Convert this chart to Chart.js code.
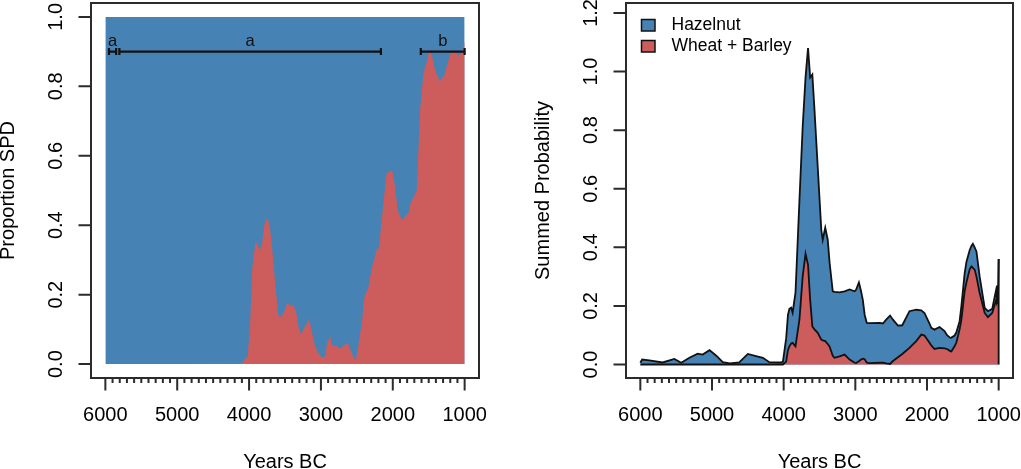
<!DOCTYPE html>
<html>
  <head>
    <meta charset="utf-8">
    <title>Proportion SPD and Summed Probability</title>
    <script src="https://cdn.jsdelivr.net/npm/chart.js@4.4.0/dist/chart.umd.min.js"></script>
    <style>
      html, body { margin: 0; padding: 0; background: #fff; }
      #wrap { position: relative; width: 1021px; height: 469px; overflow: hidden; }
      canvas { position: absolute; top: 0; }
    </style>
  </head>
  <body>

    <div id="wrap">
      <!-- Left: proportion of wheat + barley in the SPD -->
      <canvas id="propChart" width="510" height="469" style="left:0"></canvas>
      <!-- Right: stacked summed probability -->
      <canvas id="spdChart" width="511" height="469" style="left:510px"></canvas>
    </div>

    <script>

      // ---- Data ----

      // Left panel: share of wheat + barley, the rest (hazelnut) fills up to 1
      const propYears = [6000, 4100, 4056, 4019, 3987, 3955, 3908, 3848, 3824, 3788, 3755, 3718, 3685, 3649, 3615, 3593,
        3546, 3509, 3462, 3430, 3384, 3347, 3314, 3277, 3221, 3198, 3166, 3128, 3082, 3036, 2981, 2943, 2915, 2873,
        2841, 2781, 2734, 2688, 2627, 2572, 2516, 2480, 2430, 2393, 2340, 2317, 2277, 2222, 2192, 2128, 2085, 2039,
        2007, 1969, 1932, 1876, 1830, 1783, 1750, 1691, 1667, 1621, 1574, 1528, 1482, 1450, 1403, 1343, 1283, 1227,
        1180, 1134, 1088, 1041, 1005, 1000];
      const propWheatBarley = [0, 0.002, 0.014, 0.024, 0.11, 0.28, 0.354, 0.33, 0.34, 0.40, 0.42, 0.406, 0.349, 0.263, 0.186, 0.139,
        0.137, 0.153, 0.179, 0.169, 0.169, 0.153, 0.11, 0.086, 0.11, 0.115, 0.129, 0.096, 0.052, 0.032, 0.019, 0.022, 0.06, 0.081,
        0.052, 0.052, 0.045, 0.052, 0.062, 0.032, 0.01, 0.052, 0.12, 0.196, 0.22, 0.249, 0.29, 0.33, 0.335, 0.47, 0.55, 0.555,
        0.559, 0.511, 0.444, 0.416, 0.425, 0.435, 0.464, 0.49, 0.50, 0.73, 0.837, 0.87, 0.908, 0.884, 0.841, 0.815, 0.832, 0.875,
        0.903, 0.90, 0.889, 0.895, 0.927, 0.93];
      const propHazelYears = [6000, 1000];
      const propHazel = [1, 1];

      // Significance groups drawn as brackets on the left panel
      const groupStart = [5950, 5805, 1610];
      const groupEnd = [5850, 2165, 1000];
      const groupLetters = ["a", "a", "b"];
      const groupLevel = 0.9;

      // Right panel: summed probability, wheat + barley at the bottom, hazelnut stacked on top
      const spdYears = [6000, 5975, 5875, 5690, 5525, 5430, 5315, 5200, 5130, 5035, 4940, 4850, 4750, 4620, 4500, 4385,
        4290, 4200, 4035, 4010, 3965, 3940, 3920, 3895, 3875, 3835, 3780, 3735, 3695, 3660, 3630, 3600, 3570, 3525,
        3475, 3455, 3420, 3385, 3360, 3315, 3290, 3220, 3150, 3080, 3010, 2990, 2950, 2920, 2895, 2870, 2840, 2800,
        2660, 2615, 2570, 2515, 2475, 2405, 2345, 2245, 2150, 2080, 2035, 1965, 1940, 1895, 1825, 1755, 1720, 1675,
        1660, 1615, 1590, 1545, 1520, 1475, 1450, 1405, 1380, 1360, 1335, 1310, 1265, 1195, 1150, 1090, 1040, 1030,
        1020, 1010, 1000];
      const wheatBarley = [0, 0, 0, 0, 0, 0, 0, 0, 0, 0, 0, 0, 0, 0, 0, 0,
        0, 0, 0, 0, 0.01, 0.05, 0.062, 0.072, 0.074, 0.062, 0.153, 0.30, 0.378, 0.34, 0.22, 0.13, 0.12, 0.108,
        0.085, 0.082, 0.08, 0.07, 0.062, 0.03, 0.023, 0.028, 0.034, 0.017, 0.006, 0.005, 0.011, 0.017, 0.02, 0.018, 0.006, 0.005,
        0.006, 0.006, 0.004, 0.002, 0.012, 0.025, 0.036, 0.057, 0.08, 0.102, 0.099, 0.074, 0.065, 0.053, 0.057, 0.055, 0.053, 0.046,
        0.045, 0.062, 0.075, 0.12, 0.153, 0.25, 0.28, 0.325, 0.335, 0.33, 0.324, 0.30, 0.244, 0.176, 0.162, 0.176, 0.216, 0.21,
        0.267, 0.21, 0.21];
      const hazelnut = [0.006, 0.017, 0.014, 0.007, 0.019, 0.006, 0.023, 0.037, 0.034, 0.049, 0.030, 0.008, 0.004, 0.007, 0.036, 0.029,
        0.023, 0.008, 0.007, 0.01, 0.08, 0.12, 0.128, 0.122, 0.103, 0.183, 0.407, 0.51, 0.602, 0.74, 0.76, 0.86, 0.75, 0.568,
        0.375, 0.344, 0.387, 0.356, 0.288, 0.22, 0.225, 0.218, 0.216, 0.239, 0.244, 0.25, 0.269, 0.233, 0.20, 0.152, 0.136, 0.136,
        0.136, 0.134, 0.149, 0.165, 0.141, 0.108, 0.098, 0.125, 0.107, 0.083, 0.077, 0.066, 0.06, 0.066, 0.071, 0.059, 0.047, 0.045,
        0.047, 0.037, 0.035, 0.028, 0.047, 0.06, 0.07, 0.065, 0.07, 0.082, 0.076, 0.086, 0.056, 0.017, 0.02, 0.014, 0.034, 0.02,
        0.003, 0.01, 0.15];

      // Tick labels
      const xMajorTicks = [6000, 5000, 4000, 3000, 2000, 1000];
      const propYTicks = [0, 0.2, 0.4, 0.6, 0.8, 1.0];
      const propYLabels = ["0.0", "0.2", "0.4", "0.6", "0.8", "1.0"];
      const spdYTicks = [0, 0.2, 0.4, 0.6, 0.8, 1.0, 1.2];
      const spdYLabels = ["0.0", "0.2", "0.4", "0.6", "0.8", "1.0", "1.2"];

      // Minor ticks every 100 years
      const xMinorTicks = [];
      for (let yr = 5900; yr > 1000; yr -= 100) {
        if (yr % 1000 !== 0) xMinorTicks.push(yr);
      }

      const BLUE = "#4682b4";
      const RED = "#cd5c5c";
      const FONT = '"Liberation Sans", Arial, Helvetica, sans-serif';

      const toPoints = (xs, ys) => xs.map((x, i) => ({ x: x, y: ys[i] }));

      // R style box, axes, tick labels and titles
      const rAxes = {
        id: "rAxes",
        afterDraw(chart, args, opts) {
          const { ctx, chartArea: a, scales: { x, y } } = chart;
          ctx.save();
          ctx.strokeStyle = "#2b2b2b";
          ctx.lineWidth = 2;
          ctx.strokeRect(a.left, a.top, a.right - a.left, a.bottom - a.top);

          ctx.beginPath();
          xMinorTicks.forEach(v => {
            const px = x.getPixelForValue(v);
            ctx.moveTo(px, a.bottom);
            ctx.lineTo(px, a.bottom + 5);
          });
          xMajorTicks.forEach(v => {
            const px = x.getPixelForValue(v);
            ctx.moveTo(px, a.bottom);
            ctx.lineTo(px, a.bottom + 12.5);
          });
          opts.yTicks.forEach(v => {
            const py = y.getPixelForValue(v);
            ctx.moveTo(a.left, py);
            ctx.lineTo(a.left - 12.5, py);
          });
          ctx.stroke();

          ctx.fillStyle = "#000";
          ctx.font = "20px " + FONT;
          ctx.textAlign = "center";
          ctx.textBaseline = "middle";
          xMajorTicks.forEach(v => ctx.fillText(String(v), x.getPixelForValue(v), a.bottom + 37));
          ctx.fillText("Years BC", (a.left + a.right) / 2, a.bottom + 84);

          opts.yTicks.forEach((v, i) => {
            ctx.save();
            ctx.translate(a.left - 35, y.getPixelForValue(v));
            ctx.rotate(-Math.PI / 2);
            ctx.fillText(opts.yLabels[i], 0, 0);
            ctx.restore();
          });

          ctx.save();
          ctx.translate(a.left - 83, (a.top + a.bottom) / 2);
          ctx.rotate(-Math.PI / 2);
          ctx.fillText(opts.yTitle, 0, 0);
          ctx.restore();
          ctx.restore();
        }
      };

      // Group brackets with letters (left panel)
      const groupBrackets = {
        id: "groupBrackets",
        afterDatasetsDraw(chart) {
          const { ctx, scales: { x, y } } = chart;
          const py = y.getPixelForValue(groupLevel);
          ctx.save();
          ctx.strokeStyle = "#111";
          ctx.lineWidth = 2.2;
          ctx.fillStyle = "#111";
          ctx.font = "16.5px " + FONT;
          ctx.textAlign = "center";
          ctx.textBaseline = "alphabetic";
          groupStart.forEach((s, i) => {
            const x1 = x.getPixelForValue(s);
            const x2 = x.getPixelForValue(groupEnd[i]);
            ctx.beginPath();
            ctx.moveTo(x1, py); ctx.lineTo(x2, py);
            ctx.moveTo(x1, py - 3.5); ctx.lineTo(x1, py + 3.5);
            ctx.moveTo(x2, py - 3.5); ctx.lineTo(x2, py + 3.5);
            ctx.stroke();
            ctx.fillText(groupLetters[i], (x1 + x2) / 2, py - 6);
          });
          ctx.restore();
        }
      };

      // Closing vertical edge of the stacked polygons and the legend (right panel)
      const spdExtras = {
        id: "spdExtras",
        afterDatasetsDraw(chart) {
          const { ctx, chartArea: a, scales: { y } } = chart;
          const top = chart.getDatasetMeta(1).data;
          const last = top[top.length - 1];
          ctx.save();
          ctx.strokeStyle = "#111";
          ctx.lineWidth = 1.8;
          ctx.beginPath();
          ctx.moveTo(last.x, y.getPixelForValue(0));
          ctx.lineTo(last.x, last.y);
          ctx.stroke();

          // legend
          const items = [["Hazelnut", BLUE], ["Wheat + Barley", RED]];
          ctx.font = "17.5px " + FONT;
          ctx.textAlign = "left";
          ctx.textBaseline = "middle";
          items.forEach((it, i) => {
            const bx = a.left + 15.5;
            const by = a.top + 16.5 + i * 21;
            ctx.fillStyle = it[1];
            ctx.fillRect(bx, by, 13.5, 11.5);
            ctx.lineWidth = 1.5;
            ctx.strokeStyle = "#111";
            ctx.strokeRect(bx, by, 13.5, 11.5);
            ctx.fillStyle = "#000";
            ctx.fillText(it[0], bx + 30, by + 6);
          });
          ctx.restore();
        }
      };

      const commonLine = { pointRadius: 0, tension: 0, fill: "origin" };

      // Left chart
      new Chart(document.getElementById("propChart").getContext("2d"), {
        type: "line",
        data: {
          datasets: [
            Object.assign({
              label: "Wheat + Barley",
              data: toPoints(propYears, propWheatBarley),
              backgroundColor: RED,
              borderWidth: 0
            }, commonLine),
            Object.assign({
              label: "Hazelnut",
              data: toPoints(propHazelYears, propHazel),
              backgroundColor: BLUE,
              borderWidth: 0
            }, commonLine)
          ]
        },
        options: {
          responsive: false,
          animation: false,
          events: [],
          layout: { padding: { left: 91, top: 3, right: 31, bottom: 91 } },
          scales: {
            x: { type: "linear", min: 800, max: 6200, reverse: true, display: false },
            y: { min: -0.04, max: 1.04, display: false }
          },
          plugins: {
            legend: { display: false },
            tooltip: { enabled: false },
            rAxes: { yTicks: propYTicks, yLabels: propYLabels, yTitle: "Proportion SPD" }
          }
        },
        plugins: [groupBrackets, rAxes]
      });

      // Right chart
      new Chart(document.getElementById("spdChart").getContext("2d"), {
        type: "line",
        data: {
          datasets: [
            Object.assign({
              label: "Wheat + Barley",
              data: toPoints(spdYears, wheatBarley),
              backgroundColor: RED,
              borderColor: "#111",
              borderWidth: 1.8
            }, commonLine),
            Object.assign({
              label: "Hazelnut",
              data: toPoints(spdYears, hazelnut),
              backgroundColor: BLUE,
              borderColor: "#111",
              borderWidth: 1.8
            }, commonLine)
          ]
        },
        options: {
          responsive: false,
          animation: false,
          events: [],
          layout: { padding: { left: 116, top: 3, right: 8, bottom: 91 } },
          scales: {
            x: { type: "linear", min: 800, max: 6200, reverse: true, display: false },
            y: { min: -0.046, max: 1.234, stacked: true, display: false }
          },
          plugins: {
            legend: { display: false },
            tooltip: { enabled: false },
            rAxes: { yTicks: spdYTicks, yLabels: spdYLabels, yTitle: "Summed Probability" }
          }
        },
        plugins: [spdExtras, rAxes]
      });

    </script>
  </body>
</html>
